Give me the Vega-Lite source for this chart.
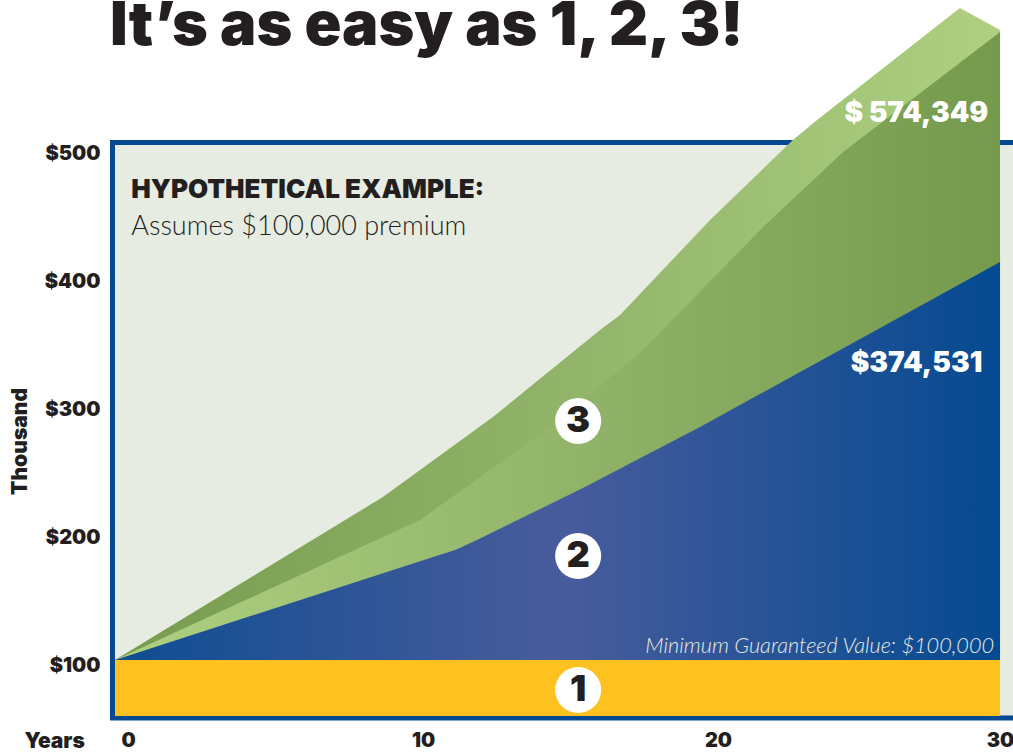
{
"$schema":"https://vega.github.io/schema/vega-lite/v6.json",
"autosize":{"type":"none"},
"padding":{"left":115,"top":145,"right":0,"bottom":36},
"width":898,"height":571,
"background":"white",
"view":{"fill":"#E7ECE2","stroke":null},
"config":{"font":"Inter"},
"title":{"text":"It’s as easy as 1, 2, 3!","anchor":"start","frame":"group","font":"Inter","fontWeight":900,"fontSize":61,"color":"#231F20","baseline":"alphabetic","offset":-98,"dx":-5},
"datasets":{
"curves":[
{"s":"A","year":0,"value":100},{"s":"A","year":9.08,"value":227.3},{"s":"A","year":12.81,"value":289.8},{"s":"A","year":16.44,"value":357.8},{"s":"A","year":17.12,"value":369.5},{"s":"A","year":20.17,"value":443.75},{"s":"A","year":22.98,"value":506.25},{"s":"A","year":23.8,"value":521.9},{"s":"A","year":28.64,"value":609.4},{"s":"A","year":30,"value":592.2},
{"s":"B","year":0,"value":100},{"s":"B","year":10.34,"value":209.4},{"s":"B","year":14.14,"value":271.9},{"s":"B","year":16.2,"value":309.4},{"s":"B","year":17.9,"value":342.2},{"s":"B","year":21.97,"value":438.3},{"s":"B","year":24.68,"value":496.9},{"s":"B","year":30,"value":590.6},
{"s":"C","year":0,"value":100},{"s":"C","year":10.68,"value":179.7},{"s":"C","year":11.53,"value":185.9},{"s":"C","year":12.27,"value":193.75},{"s":"C","year":15.86,"value":234.4},{"s":"C","year":19.83,"value":282},{"s":"C","year":30,"value":410.9},
{"s":"G","year":0,"value":100},{"s":"G","year":30,"value":100}
],
"badges":[{"year":15.7,"value":76.6,"n":"1"},{"year":15.7,"value":181.25,"n":"2"},{"year":15.7,"value":286.7,"n":"3"}]
},
"data":{"values":[{}]},
"encoding":{
"x":{"type":"quantitative","scale":{"domain":[0,30.44],"nice":false,"zero":false}},
"y":{"type":"quantitative","scale":{"domain":[56.25,502.34],"nice":false,"zero":false}}
},
"layer":[
{"mark":{"type":"rule","color":"#054A91","strokeWidth":5,"clip":false},"encoding":{"x":{"datum":-0.085,"type":"quantitative","axis":{"values":[0,10,20,30],"title":"Years","titleFont":"Inter","titleFontWeight":900,"titleFontSize":21,"titleColor":"#231F20","titleAnchor":"start","titleAlign":"left","titleX":-91,"titleY":31,"titleBaseline":"alphabetic","labelFont":"Inter","labelFontWeight":900,"labelFontSize":20,"labelColor":"#231F20","domain":false,"ticks":false,"grid":false,"labelPadding":14,"labelFlush":false,"labelOffset":{"condition":{"test":"datum.value==30","value":0},"value":13}}},"y":{"datum":54.7,"type":"quantitative","axis":{"values":[100,200,300,400,500],"labelExpr":"'$'+datum.value","title":"Thousand","titleFont":"Inter","titleFontWeight":900,"titleFontSize":21,"titleColor":"#231F20","titleX":-85,"titleY":296,"labelFont":"Inter","labelFontWeight":900,"labelFontSize":20,"labelColor":"#231F20","labelOffset":6,"domain":false,"ticks":false,"grid":false,"labelPadding":15}},"y2":{"datum":504.3}}},
{"mark":{"type":"rule","color":"#054A91","strokeWidth":5,"clip":false},"encoding":{"y":{"datum":504.3,"type":"quantitative"},"x":{"datum":-0.17,"type":"quantitative"},"x2":{"datum":30.44}}},
{"mark":{"type":"rule","color":"#054A91","strokeWidth":5,"clip":false},"encoding":{"y":{"datum":54.7,"type":"quantitative"},"x":{"datum":-0.17,"type":"quantitative"},"x2":{"datum":30.44}}},
{"data":{"name":"curves"},"transform":[{"filter":"datum.s=='A'"}],"mark":{"type":"area","interpolate":"linear","clip":false,"color":{"gradient":"linear","x1":0,"x2":1,"y1":0,"y2":0,"stops":[{"offset":0,"color":"#779B4E"},{"offset":0.55,"color":"#93B66C"},{"offset":1,"color":"#AFD080"}]}},"encoding":{"x":{"field":"year","type":"quantitative"},"y":{"field":"value","type":"quantitative"},"y2":{"datum":100}}},
{"data":{"name":"curves"},"transform":[{"filter":"datum.s=='B'"}],"mark":{"type":"area","interpolate":"linear","clip":false,"color":{"gradient":"linear","x1":0,"x2":1,"y1":0,"y2":0,"stops":[{"offset":0,"color":"#AFD080"},{"offset":0.55,"color":"#8FB268"},{"offset":1,"color":"#759A4C"}]}},"encoding":{"x":{"field":"year","type":"quantitative"},"y":{"field":"value","type":"quantitative"},"y2":{"datum":100}}},
{"data":{"name":"curves"},"transform":[{"filter":"datum.s=='C'"}],"mark":{"type":"area","interpolate":"linear","color":{"gradient":"linear","x1":0,"x2":1,"y1":0,"y2":0,"stops":[{"offset":0,"color":"#0F4D92"},{"offset":0.5,"color":"#485C9C"},{"offset":1,"color":"#054A91"}]}},"encoding":{"x":{"field":"year","type":"quantitative"},"y":{"field":"value","type":"quantitative"},"y2":{"datum":100}}},
{"data":{"name":"curves"},"transform":[{"filter":"datum.s=='G'"}],"mark":{"type":"area","color":"#FDC220"},"encoding":{"x":{"field":"year","type":"quantitative"},"y":{"field":"value","type":"quantitative"},"y2":{"datum":56.25}}},
{"data":{"name":"badges"},"mark":{"type":"circle","color":"white","opacity":1,"size":2124,"clip":false},"encoding":{"x":{"field":"year","type":"quantitative"},"y":{"field":"value","type":"quantitative"}}},
{"data":{"name":"badges"},"mark":{"type":"text","font":"Inter","fontWeight":900,"fontSize":36,"color":"#231F20","align":"center","baseline":"middle"},"encoding":{"x":{"field":"year","type":"quantitative"},"y":{"field":"value","type":"quantitative"},"text":{"field":"n"}}},
{"data":{"values":[{"year":0.55,"value":461,"t":"HYPOTHETICAL EXAMPLE:"}]},"mark":{"type":"text","font":"Inter","fontWeight":900,"fontSize":26,"color":"#231F20","align":"left","baseline":"alphabetic"},"encoding":{"x":{"field":"year","type":"quantitative"},"y":{"field":"value","type":"quantitative"},"text":{"field":"t"}}},
{"data":{"values":[{"year":0.55,"value":432,"t":"Assumes $100,000 premium"}]},"mark":{"type":"text","font":"Lato","fontWeight":300,"fontSize":27,"color":"#231F20","align":"left","baseline":"alphabetic"},"encoding":{"x":{"field":"year","type":"quantitative"},"y":{"field":"value","type":"quantitative"},"text":{"field":"t"}}},
{"data":{"values":[{"year":29.8,"value":105.5,"t":"Minimum Guaranteed Value: $100,000"}]},"mark":{"type":"text","font":"Lato","fontWeight":300,"fontStyle":"italic","fontSize":21.7,"color":"#E7ECE2","align":"right","baseline":"alphabetic"},"encoding":{"x":{"field":"year","type":"quantitative"},"y":{"field":"value","type":"quantitative"},"text":{"field":"t"}}},
{"data":{"values":[{"year":29.4,"value":331.5,"t":"$374,531"}]},"mark":{"type":"text","font":"Inter","fontWeight":900,"fontSize":28,"color":"white","align":"right","baseline":"middle"},"encoding":{"x":{"field":"year","type":"quantitative"},"y":{"field":"value","type":"quantitative"},"text":{"field":"t"}}},
{"data":{"values":[{"year":29.6,"value":526.5,"t":"$ 574,349"}]},"mark":{"type":"text","font":"Inter","fontWeight":900,"fontSize":28,"color":"white","align":"right","baseline":"middle","clip":false},"encoding":{"x":{"field":"year","type":"quantitative"},"y":{"field":"value","type":"quantitative"},"text":{"field":"t"}}}
]
}
